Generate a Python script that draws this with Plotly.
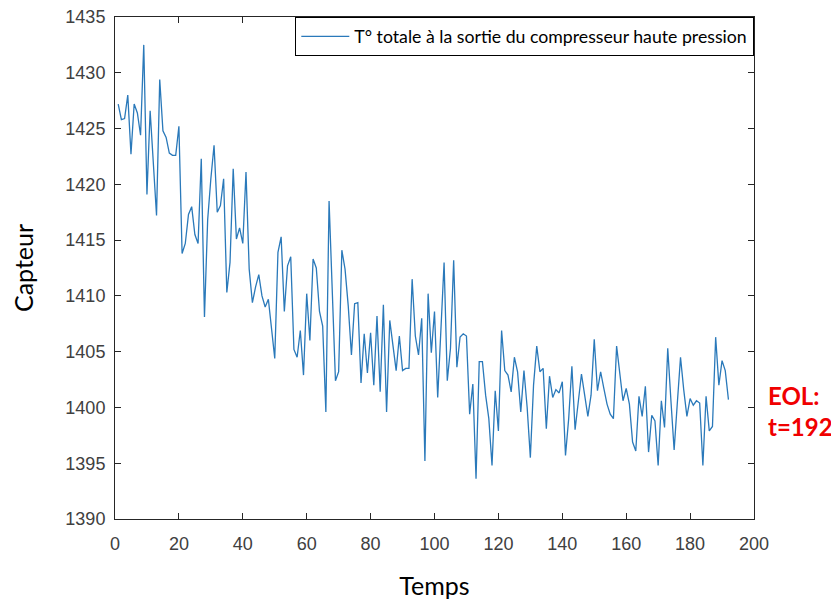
import plotly.graph_objects as go

temps = list(range(1, 193))
capteur = [
    1427.2, 1425.8, 1425.9, 1428.0, 1422.7, 1427.2, 1426.4, 1424.4, 1432.5, 1419.1,
    1426.6, 1421.8, 1417.2, 1429.4, 1424.8, 1424.2, 1422.8, 1422.6, 1422.6, 1425.2,
    1413.8, 1414.7, 1417.3, 1418.0, 1415.5, 1414.7, 1422.3, 1408.1, 1416.8, 1420.5,
    1423.5, 1417.5, 1418.1, 1420.5, 1410.3, 1413.0, 1421.4, 1415.1, 1416.1, 1414.7,
    1421.1, 1412.4, 1409.4, 1410.8, 1411.9, 1410.0, 1409.0, 1409.7, 1407.0, 1404.4,
    1413.9, 1415.3, 1408.6, 1412.7, 1413.5, 1405.2, 1404.5, 1406.9, 1402.9, 1410.2,
    1406.0, 1413.3, 1412.5, 1408.6, 1407.3, 1399.6, 1418.5, 1410.0, 1402.4, 1403.2,
    1414.1, 1412.4, 1409.1, 1404.7, 1409.3, 1409.4, 1402.2, 1406.6, 1403.1, 1406.7,
    1402.0, 1408.2, 1401.4, 1409.2, 1399.6, 1407.8, 1405.3, 1403.3, 1406.4, 1403.3,
    1403.5, 1403.5, 1411.5, 1406.4, 1404.7, 1408.0, 1395.2, 1410.2, 1404.9, 1408.6,
    1400.9, 1407.0, 1413.0, 1402.4, 1405.3, 1413.2, 1403.6, 1406.3, 1406.6, 1406.4,
    1399.4, 1402.1, 1393.6, 1404.1, 1404.1, 1401.1, 1399.0, 1394.8, 1401.5, 1397.9,
    1406.9, 1403.3, 1402.9, 1401.4, 1404.5, 1403.2, 1399.6, 1403.3, 1400.0, 1395.5,
    1402.0, 1405.5, 1403.2, 1403.5, 1398.1, 1402.8, 1400.9, 1401.6, 1401.3, 1402.3,
    1395.7, 1399.0, 1403.7, 1398.0, 1400.3, 1403.0, 1401.1, 1399.2, 1401.1, 1406.1,
    1401.5, 1403.2, 1401.7, 1400.3, 1399.4, 1399.0, 1405.5, 1403.0, 1400.6, 1401.7,
    1400.3, 1396.9, 1396.1, 1401.0, 1399.2, 1401.9, 1396.0, 1399.3, 1398.8, 1394.8,
    1400.6, 1398.2, 1405.3, 1400.6, 1396.2, 1400.4, 1404.5, 1401.6, 1399.2, 1400.8,
    1400.2, 1400.6, 1400.4, 1394.8, 1401.0, 1397.9, 1398.3, 1406.3, 1402.0, 1404.2,
    1403.3, 1400.7,
]
x_ticks = [0, 20, 40, 60, 80, 100, 120, 140, 160, 180, 200]
y_ticks = [1390, 1395, 1400, 1405, 1410, 1415, 1420, 1425, 1430, 1435]
series_name = "T° totale à la sortie du compresseur haute pression"
eol_text = "EOL:<br>t=192"

fig = go.Figure()
fig.add_trace(go.Scatter(
    x=temps, y=capteur, mode="lines", name=series_name,
    line=dict(color="#2a79ba", width=1.3),
    showlegend=True,
))

axis_common = dict(
    showline=True, linecolor="#262626", linewidth=1, mirror="ticks",
    ticks="inside", ticklen=6, tickcolor="#262626", showgrid=False, zeroline=False,
    automargin=False, ticklabeloverflow="allow",
    tickfont=dict(family="Liberation Sans, Arial", size=18, color="#404040"),
)

fig.update_layout(
    width=839, height=603,
    margin=dict(l=107, r=93, t=9, b=92, autoexpand=False),
    paper_bgcolor="white", plot_bgcolor="white",
    xaxis=dict(range=[0, 200], tickvals=x_ticks, ticklabelstandoff=8,
               title=dict(text="Temps", standoff=24,
                          font=dict(family="Lato", size=25, color="black")),
               **axis_common),
    yaxis=dict(range=[1390, 1435], tickvals=y_ticks, ticklabelstandoff=5,
               title=dict(text="Capteur", standoff=26,
                          font=dict(family="Lato", size=25, color="black")),
               **axis_common),
    legend=dict(x=1, y=1, xanchor="right", yanchor="top",
                bgcolor="white", bordercolor="black", borderwidth=1.3,
                font=dict(family="Lato", size=17.7, color="black"),
                itemwidth=48),
    annotations=[dict(
        text=eol_text, xref="paper", yref="y", x=1.018, y=1399.7,
        xanchor="left", yanchor="middle", align="left", showarrow=False,
        font=dict(family="Lato", size=24, color="#f00000", weight="bold"),
    )],
)

fig.write_html("out.html")
